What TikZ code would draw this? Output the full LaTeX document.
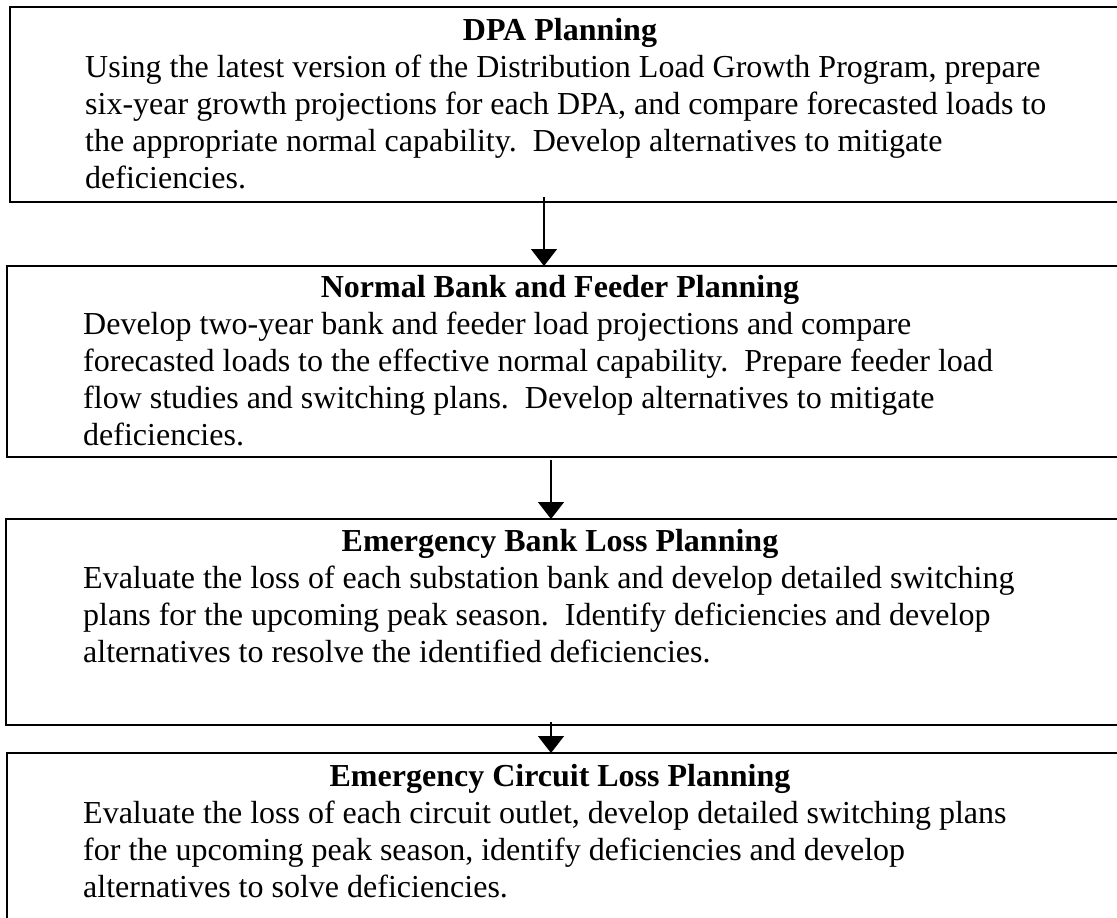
\documentclass[tikz,border=0pt]{standalone}
\usepackage{fontspec}
\setmainfont{Liberation Serif}
\usetikzlibrary{arrows.meta}
\begin{document}
\begin{tikzpicture}[x=1pt,y=-1pt,
  box/.style={draw,line width=1.6pt,inner sep=0pt,outer sep=0pt,anchor=north west},
  ttl/.style={font=\fontsize{32}{37}\selectfont\bfseries,anchor=base,inner sep=0pt},
  body/.style={font=\fontsize{32}{37}\selectfont,anchor=base west,align=left,inner sep=0pt},
  arr/.style={line width=1.4pt,-{Triangle[width=26pt,length=17pt]}}]
\useasboundingbox (0,0) rectangle (1117,918);
\node[box,minimum width=1115pt,minimum height=195pt] (b1) at (10,7) {};
\node[box,minimum width=1118pt,minimum height=191pt] (b2) at (7,266) {};
\node[box,minimum width=1119pt,minimum height=206pt] (b3) at (6,519) {};
\node[box,minimum width=1118pt,minimum height=177pt] (b4) at (7,753) {};
\node[ttl] (t1) at (560,40) {DPA Planning};
\node[body] (d1) at (85,188) {Using the latest version of the Distribution Load Growth Program, prepare\\
six-year growth projections for each DPA, and compare forecasted loads to\\
the appropriate normal capability.\ \ Develop alternatives to mitigate\\
deficiencies.};
\node[ttl] (t2) at (560,297) {Normal Bank and Feeder Planning};
\node[body] (d2) at (83,445) {Develop two-year bank and feeder load projections and compare\\
forecasted loads to the effective normal capability.\ \ Prepare feeder load\\
flow studies and switching plans.\ \ Develop alternatives to mitigate\\
deficiencies.};
\node[ttl] (t3) at (560,551) {Emergency Bank Loss Planning};
\node[body] (d3) at (83,662) {Evaluate the loss of each substation bank and develop detailed switching\\
plans for the upcoming peak season.\ \ Identify deficiencies and develop\\
alternatives to resolve the identified deficiencies.};
\node[ttl] (t4) at (560,786) {Emergency Circuit Loss Planning};
\node[body] (d4) at (83,897) {Evaluate the loss of each circuit outlet, develop detailed switching plans\\
for the upcoming peak season, identify deficiencies and develop\\
alternatives to solve deficiencies.};
\coordinate (a1) at (544,197);
\coordinate (a2) at (551,460);
\coordinate (a3) at (551,722);
\draw[arr] (a1) -- (a1 |- b2.north);
\draw[arr] (a2) -- (a2 |- b3.north);
\draw[arr] (a3) -- (a3 |- b4.north);
\end{tikzpicture}
\end{document}
